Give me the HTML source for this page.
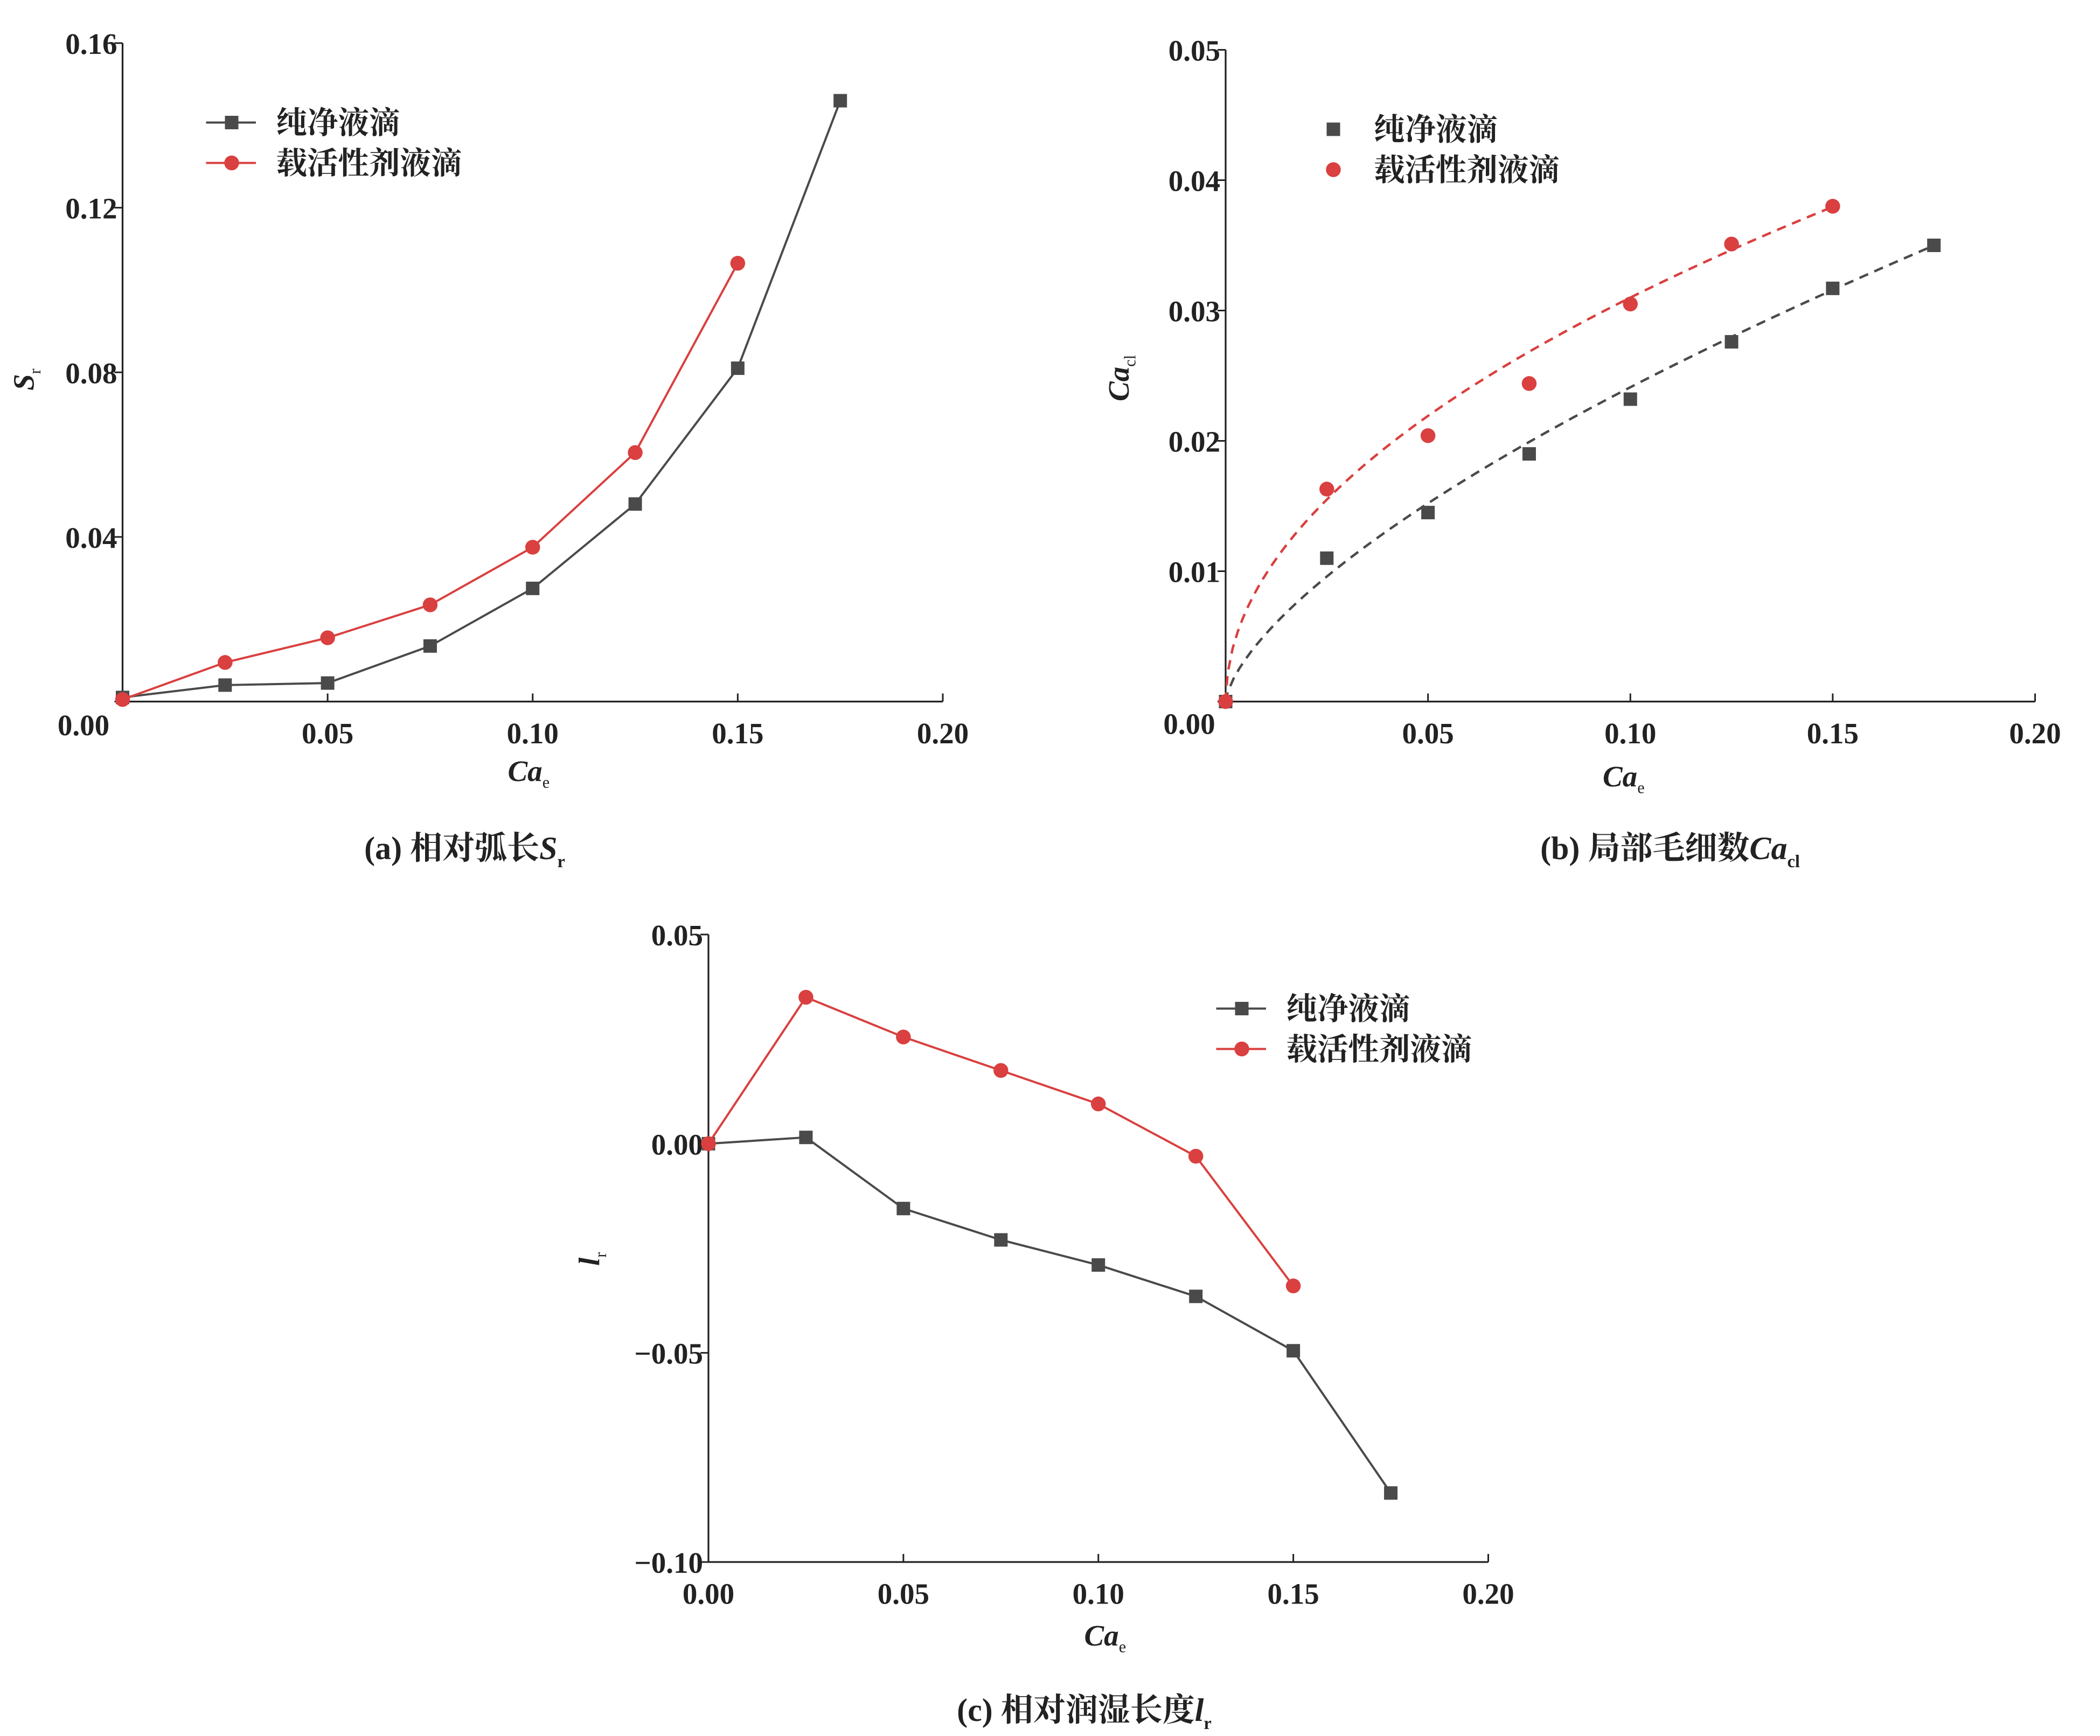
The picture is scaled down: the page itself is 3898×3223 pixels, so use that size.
<!DOCTYPE html>
<html><head><meta charset="utf-8"><style>
html,body{margin:0;padding:0;background:#fff;}
svg{display:block;}
text{font-family:"Liberation Serif","Noto Serif CJK SC",serif;fill:#222;}
.cj{font-family:"Liberation Serif","Noto Serif CJK SC","Noto Sans CJK SC",serif;font-weight:bold;}
</style></head><body>
<svg id="root" width="3898" height="3223" viewBox="0 0 1559.2 1289.2" xmlns="http://www.w3.org/2000/svg"></svg>
<script>
// ---- data ----
const xCats=[0,0.025,0.05,0.075,0.1,0.125,0.15,0.175];
const aPure=[0.001,0.004,0.0045,0.0135,0.0275,0.048,0.081,0.146];
const aSurf=[0.0005,0.0095,0.0155,0.0235,0.0375,0.0605,0.1065];
const bX=[0.025,0.05,0.075,0.1,0.125,0.15,0.175];
const bPure=[0.011,0.0145,0.019,0.0232,0.0276,0.0317,0.035];
const bSurf=[0.0163,0.0204,0.0244,0.0305,0.0351,0.038];
const bFitPure=[0.1115,0.665];
const bFitSurf=[0.098,0.5];
const bFitEnd=[0.175,0.15];
const cPure=[0,0.0015,-0.0155,-0.023,-0.029,-0.0365,-0.0495,-0.0835];
const cSurf=[0,0.035,0.0255,0.0175,0.0095,-0.003,-0.034];
const xTicks=[0,0.05,0.10,0.15,0.20];
const aYTicks=[0,0.04,0.08,0.12,0.16];
const bYTicks=[0,0.01,0.02,0.03,0.04,0.05];
const cYTicks=[-0.10,-0.05,0,0.05];

const NS="http://www.w3.org/2000/svg";
const root=document.getElementById('root');
function mk(tag,attrs,parent,txt){const e=document.createElementNS(NS,tag);for(const k in attrs)e.setAttribute(k,attrs[k]);if(txt!==undefined)e.textContent=txt;(parent||root).appendChild(e);return e;}
const GRAY="#4a4a4a",RED="#d9403f";

function axes(g,P,yTicks,yFmt){
  const X=v=>P.x0+(v-0)/(0.2)*(P.x1-P.x0);
  const Y=v=>P.y0+(v-P.ymin)/(P.ymax-P.ymin)*(P.y1-P.y0);
  mk('line',{x1:P.x0,y1:P.y0,x2:P.x0,y2:P.y1,stroke:'#222','stroke-width':1.3},g);
  mk('line',{x1:P.x0,y1:Y(P.xAxisAt),x2:P.x1,y2:Y(P.xAxisAt),stroke:'#222','stroke-width':1.3},g);
  xTicks.forEach(t=>{
    mk('line',{x1:X(t),y1:Y(P.xAxisAt),x2:X(t),y2:Y(P.xAxisAt)-6,stroke:'#222','stroke-width':1.2},g);
    if(t===0&&P.corner)return;
    const tl=mk('text',{x:X(t),y:Y(P.xAxisAt)+31,'text-anchor':'middle','font-size':22,'font-weight':'bold'},g,t.toFixed(2));
    
    
  });
  yTicks.forEach(t=>{
    mk('line',{x1:P.x0,y1:Y(t),x2:P.x0-6,y2:Y(t),stroke:'#222','stroke-width':1.2},g);
    if(t===0&&P.corner){
      const tl=mk('text',{x:P.corner[0],y:P.corner[1],'text-anchor':'middle','font-size':22,'font-weight':'bold'},g,'0.00');
      
      
      return;
    }
    const tl=mk('text',{x:P.x0-4,y:Y(t)+8,'text-anchor':'end','font-size':22,'font-weight':'bold'},g,yFmt(t));
    
    
  });
  return {X,Y};
}
function line(g,X,Y,xs,ys,color,marker,name){
  const pts=ys.map((v,i)=>X(xs[i])+','+Y(v)).join(' ');
  const pl=mk('polyline',{points:pts,fill:'none',stroke:color,'stroke-width':1.6},g);
  
  
  ys.forEach((v,i)=>dot(g,X(xs[i]),Y(v),color,marker,name));
}
function dot(g,x,y,color,marker,name){
  let m;
  if(marker==='sq')m=mk('rect',{x:x-5,y:y-5,width:10,height:10,fill:color},g);
  else m=mk('circle',{cx:x,cy:y,r:5.5,fill:color},g);
  
  
}
function legend(g,x,y,withLine){
  [[GRAY,'sq','纯净液滴'],[RED,'ci','载活性剂液滴']].forEach((L,i)=>{
    const yy=y+i*30;
    if(withLine){mk('line',{x1:x,y1:yy,x2:x+37,y2:yy,stroke:L[0],'stroke-width':1.6},g);}
    dot(g,withLine?x+19:x,yy,L[0],L[1],'legend');
    const t=mk('text',{x:x+(withLine?52:30),y:yy+8,'font-size':23,class:'cj'},g,L[2]);
    
    
  });
}
function sub(g,x,y,main,subs,size,rot){
  const t=mk('text',{x:x,y:y,'font-size':size,'font-style':'italic','font-weight':'bold',transform:rot?`rotate(-90 ${x} ${y})`:''},g);
  mk('tspan',{},t,main);
  mk('tspan',{'font-size':size*0.55,dy:5,'font-style':'normal','font-weight':'normal'},t,subs);
  return t;
}
function caption(g,x,y,pre,main,s){
  const t=mk('text',{x:x,y:y,'font-size':24,'text-anchor':'middle',class:'cj'},g);
  mk('tspan',{},t,pre);
  mk('tspan',{'font-style':'italic'},t,main);
  mk('tspan',{'font-size':13,dy:6},t,s);
  
  
}

// ---- chart a ----
let g=mk('g',{});
let A=axes(g,{x0:91,x1:700,y0:521,y1:32,ymin:0,ymax:0.16,xAxisAt:0,corner:[62,546]},aYTicks,t=>t.toFixed(2));
line(g,A.X,A.Y,xCats,aPure,GRAY,'sq','pure');
line(g,A.X,A.Y,xCats.slice(0,aSurf.length),aSurf,RED,'ci','surfactant');
legend(g,153,91,true);
let yl=sub(g,25,290,'S','r',22,true);
let xl=sub(g,377,580,'Ca','e',22,false);
caption(g,345,638,'(a) 相对弧长','S','r');

// ---- chart b ----
g=mk('g',{});
let B=axes(g,{x0:910,x1:1511,y0:521,y1:37,ymin:0,ymax:0.05,xAxisAt:0,corner:[883,545]},bYTicks,t=>t.toFixed(2));
[[bFitPure,GRAY,bFitEnd[0]],[bFitSurf,RED,bFitEnd[1]]].forEach(F=>{
  let d='M'+B.X(0)+','+B.Y(0);for(let i=0;i<=120;i++){const x=0.0005+i*((F[2]-0.0005)/120);const y=F[0][0]*Math.pow(x,F[0][1]);d+='L'+B.X(x)+','+B.Y(y);}
  const p=mk('path',{d:d,fill:'none',stroke:F[1],'stroke-width':1.8,'stroke-dasharray':'7,5'},g);
  
  
});
dot(g,B.X(0),B.Y(0),GRAY,'sq','pure');dot(g,B.X(0),B.Y(0),RED,'ci','surfactant');
bPure.forEach((v,i)=>dot(g,B.X(bX[i]),B.Y(v),GRAY,'sq','pure'));
bSurf.forEach((v,i)=>dot(g,B.X(bX[i]),B.Y(v),RED,'ci','surfactant'));
legend(g,990,96,false);
yl=sub(g,838,298,'Ca','cl',22,true);
xl=sub(g,1190,584,'Ca','e',22,false);
caption(g,1240,638,'(b) 局部毛细数','Ca','cl');

// ---- chart c ----
g=mk('g',{});
let C=axes(g,{x0:526,x1:1105,y0:1160,y1:694,ymin:-0.10,ymax:0.05,xAxisAt:-0.10},cYTicks,t=>(t<0?'\u2212':'')+Math.abs(t).toFixed(2));
line(g,C.X,C.Y,xCats,cPure,GRAY,'sq','pure');
line(g,C.X,C.Y,xCats.slice(0,cSurf.length),cSurf,RED,'ci','surfactant');
legend(g,903,749,true);
yl=sub(g,445,940,'l','r',22,true);
xl=sub(g,805,1222,'Ca','e',22,false);
caption(g,805,1278,'(c) 相对润湿长度','l','r');
</script>
</body></html>
